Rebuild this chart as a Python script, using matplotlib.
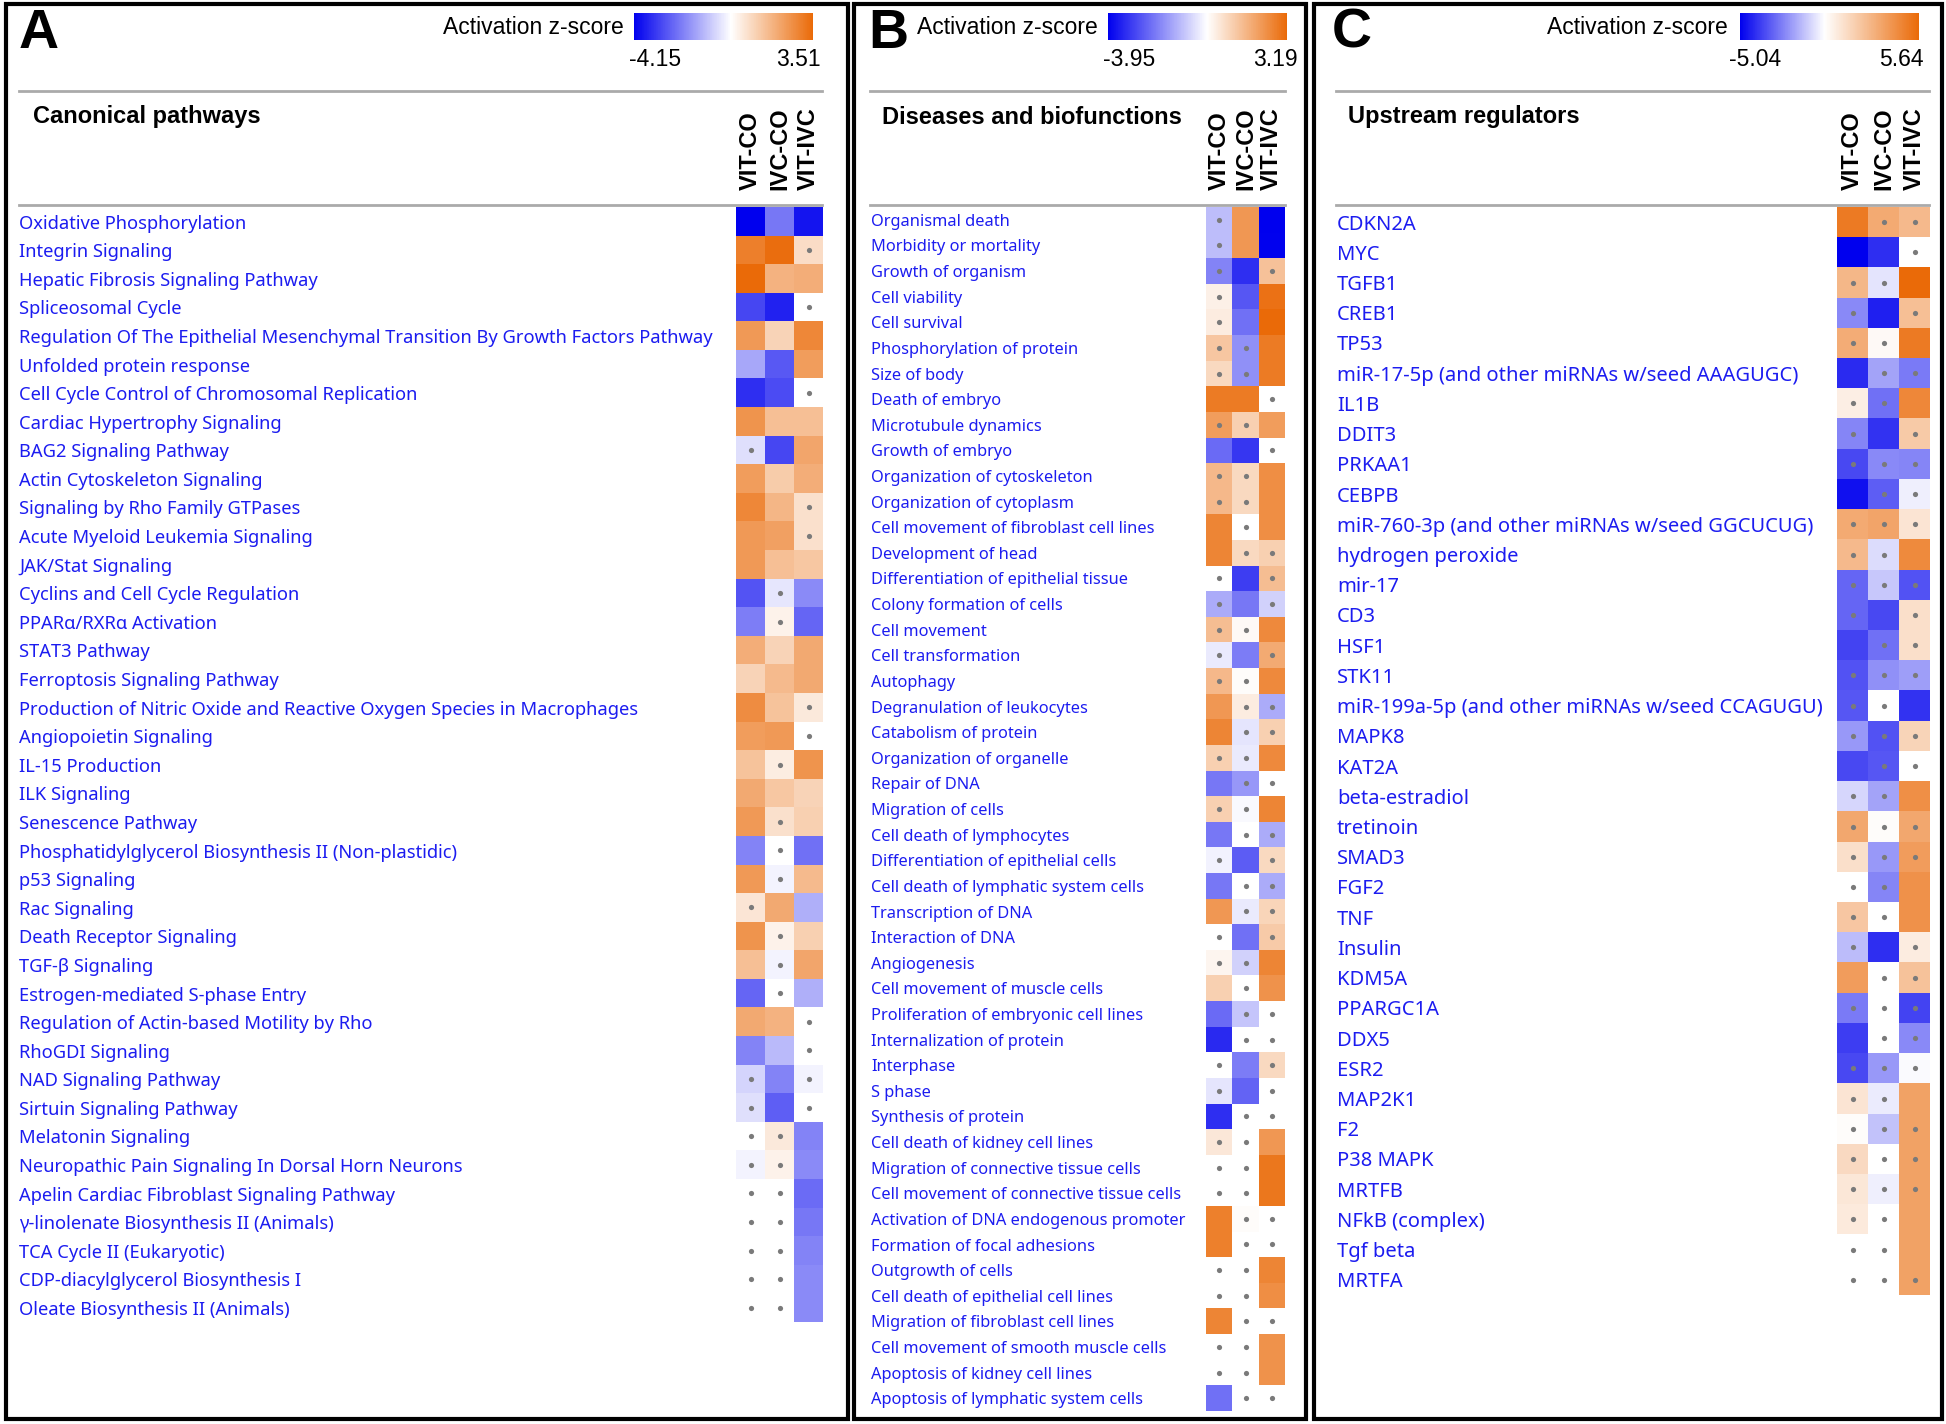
import numpy as np
import matplotlib.pyplot as plt
from matplotlib.colors import LinearSegmentedColormap, Normalize
from matplotlib.cm import ScalarMappable
from matplotlib.patches import Rectangle
from matplotlib.lines import Line2D
from matplotlib import transforms

nan = np.nan
columns = ["VIT-CO", "IVC-CO", "VIT-IVC"]

# ---- A: canonical pathways
A_terms = ["Oxidative Phosphorylation", "Integrin Signaling", "Hepatic Fibrosis Signaling Pathway",
           "Spliceosomal Cycle",
           "Regulation Of The Epithelial Mesenchymal Transition By Growth Factors Pathway",
           "Unfolded protein response", "Cell Cycle Control of Chromosomal Replication",
           "Cardiac Hypertrophy Signaling", "BAG2 Signaling Pathway", "Actin Cytoskeleton Signaling",
           "Signaling by Rho Family GTPases", "Acute Myeloid Leukemia Signaling", "JAK/Stat Signaling",
           "Cyclins and Cell Cycle Regulation", "PPARα/RXRα Activation", "STAT3 Pathway",
           "Ferroptosis Signaling Pathway",
           "Production of Nitric Oxide and Reactive Oxygen Species in Macrophages",
           "Angiopoietin Signaling", "IL-15 Production", "ILK Signaling", "Senescence Pathway",
           "Phosphatidylglycerol Biosynthesis II (Non-plastidic)", "p53 Signaling", "Rac Signaling",
           "Death Receptor Signaling", "TGF-β Signaling", "Estrogen-mediated S-phase Entry",
           "Regulation of Actin-based Motility by Rho", "RhoGDI Signaling", "NAD Signaling Pathway",
           "Sirtuin Signaling Pathway", "Melatonin Signaling",
           "Neuropathic Pain Signaling In Dorsal Horn Neurons",
           "Apelin Cardiac Fibroblast Signaling Pathway", "γ-linolenate Biosynthesis II (Animals)",
           "TCA Cycle II (Eukaryotic)", "CDP-diacylglycerol Biosynthesis I",
           "Oleate Biosynthesis II (Animals)"]
A_vals = [[-4.15, -2.2, -3.8], [3.0, 3.4, 0.8], [3.5, 1.8, 1.9], [-3.0, -3.6, nan],
          [2.4, 1.0, 2.8], [-1.4, -2.7, 2.3], [-3.4, -2.9, nan], [2.5, 1.5, 1.5],
          [-0.5, -3.0, 2.1], [2.3, 1.2, 1.9], [2.8, 1.7, 0.7], [2.4, 2.2, 0.7],
          [2.4, 1.5, 1.3], [-2.8, -0.4, -1.9], [-2.1, 0.3, -2.5], [1.9, 1.0, 2.0],
          [1.0, 1.6, 2.0], [2.7, 1.4, 0.5], [2.3, 2.4, nan], [1.4, 0.4, 2.5],
          [2.0, 1.3, 1.0], [2.4, 0.7, 1.1], [-2.0, nan, -2.3], [2.4, -0.2, 1.6],
          [0.6, 2.0, -1.3], [2.5, 0.3, 1.1], [1.5, -0.2, 2.1], [-2.5, nan, -1.3],
          [2.0, 1.8, nan], [-2.0, -1.1, nan], [-0.7, -2.0, -0.2], [-0.5, -2.6, nan],
          [nan, 0.5, -2.0], [-0.2, 0.3, -1.9], [nan, nan, -2.4], [nan, nan, -2.2],
          [nan, nan, -2.0], [nan, nan, -1.9], [nan, nan, -1.9]]
A_dots = ["000", "001", "000", "001", "000", "000", "001", "000", "100", "000",
          "001", "001", "000", "010", "010", "000", "000", "001", "001", "010",
          "000", "010", "010", "010", "100", "010", "010", "010", "001", "001",
          "101", "101", "110", "110", "110", "110", "110", "110", "110"]

# ---- B: diseases and biofunctions
B_terms = ["Organismal death", "Morbidity or mortality", "Growth of organism", "Cell viability",
           "Cell survival", "Phosphorylation of protein", "Size of body", "Death of embryo",
           "Microtubule dynamics", "Growth of embryo", "Organization of cytoskeleton",
           "Organization of cytoplasm", "Cell movement of fibroblast cell lines",
           "Development of head", "Differentiation of epithelial tissue", "Colony formation of cells",
           "Cell movement", "Cell transformation", "Autophagy", "Degranulation of leukocytes",
           "Catabolism of protein", "Organization of organelle", "Repair of DNA", "Migration of cells",
           "Cell death of lymphocytes", "Differentiation of epithelial cells",
           "Cell death of lymphatic system cells", "Transcription of DNA", "Interaction of DNA",
           "Angiogenesis", "Cell movement of muscle cells", "Proliferation of embryonic cell lines",
           "Internalization of protein", "Interphase", "S phase", "Synthesis of protein",
           "Cell death of kidney cell lines", "Migration of connective tissue cells",
           "Cell movement of connective tissue cells", "Activation of DNA endogenous promoter",
           "Formation of focal adhesions", "Outgrowth of cells", "Cell death of epithelial cell lines",
           "Migration of fibroblast cell lines", "Cell movement of smooth muscle cells",
           "Apoptosis of kidney cell lines", "Apoptosis of lymphatic system cells"]
B_vals = [[-1.0, 2.2, -3.95], [-1.0, 2.2, -3.9], [-1.9, -3.2, 1.3], [0.3, -2.6, 3.0],
          [0.4, -2.2, 3.19], [1.2, -1.7, 2.8], [0.8, -1.7, 2.8], [2.8, 2.8, nan],
          [2.1, 1.0, 2.1], [-2.3, -3.1, nan], [1.5, 0.8, 2.4], [1.5, 0.8, 2.4],
          [2.6, nan, 2.4], [2.6, 0.8, 1.0], [nan, -3.0, 1.4], [-1.3, -2.1, -0.7],
          [1.4, 0.1, 2.5], [-0.3, -2.0, 1.8], [1.5, 0.05, 2.5], [2.2, 0.4, -1.3],
          [2.6, -0.4, 1.0], [1.0, -0.3, 2.5], [-2.1, -1.6, nan], [1.0, -0.1, 2.6],
          [-2.1, nan, -1.3], [-0.2, -2.5, 0.8], [-2.1, nan, -1.3], [2.2, -0.3, 0.9],
          [nan, -2.2, 1.1], [0.2, -0.7, 2.6], [1.0, nan, 2.3], [-2.3, -0.9, nan],
          [-3.3, nan, nan], [nan, -2.0, 0.8], [-0.4, -2.4, nan], [-3.2, nan, nan],
          [0.5, nan, 2.2], [nan, nan, 2.9], [nan, nan, 2.9], [2.7, 0.05, nan],
          [2.7, nan, nan], [nan, nan, 2.6], [nan, nan, 2.4], [2.6, nan, nan],
          [nan, nan, 2.3], [nan, nan, 2.3], [-2.2, nan, nan]]
B_dots = ["100", "100", "101", "100", "100", "110", "110", "001", "110", "001",
          "110", "110", "010", "011", "101", "101", "110", "101", "110", "011",
          "011", "110", "011", "110", "011", "101", "011", "011", "101", "110",
          "010", "011", "011", "101", "101", "011", "110", "110", "110", "011",
          "011", "110", "110", "011", "110", "110", "011"]

# ---- C: upstream regulators
C_terms = ["CDKN2A", "MYC", "TGFB1", "CREB1", "TP53", "miR-17-5p (and other miRNAs w/seed AAAGUGC)",
           "IL1B", "DDIT3", "PRKAA1", "CEBPB", "miR-760-3p (and other miRNAs w/seed GGCUCUG)",
           "hydrogen peroxide", "mir-17", "CD3", "HSF1", "STK11",
           "miR-199a-5p (and other miRNAs w/seed CCAGUGU)", "MAPK8", "KAT2A", "beta-estradiol",
           "tretinoin", "SMAD3", "FGF2", "TNF", "Insulin", "KDM5A", "PPARGC1A", "DDX5", "ESR2",
           "MAP2K1", "F2", "P38 MAPK", "MRTFB", "NFkB (complex)", "Tgf beta", "MRTFA"]
C_vals = [[5.0, 3.2, 2.6], [-5.04, -4.1, nan], [2.7, -0.5, 5.6], [-2.3, -4.4, 2.4],
          [3.1, 0.2, 5.0], [-4.2, -1.8, -2.6], [0.6, -2.8, 4.5], [-2.4, -4.0, 2.0],
          [-3.6, -2.3, -2.4], [-4.7, -3.2, -0.3], [3.2, 3.4, 1.0], [2.6, -0.7, 4.4],
          [-3.0, -1.1, -3.4], [-3.0, -3.6, 1.2], [-3.7, -2.8, 1.2], [-3.4, -2.2, -1.9],
          [-3.3, nan, -4.0], [-2.0, -3.4, 1.6], [-3.6, -3.3, nan], [-0.8, -1.8, 4.2],
          [3.3, 0.1, 3.3], [1.2, -2.0, 3.7], [nan, -2.4, 4.1], [2.1, nan, 4.1],
          [-1.3, -4.1, 0.7], [3.7, nan, 2.3], [-2.6, nan, -3.7], [-3.8, nan, -2.3],
          [-3.6, -2.0, -0.1], [1.0, -0.4, 3.5], [0.1, -1.2, 3.5], [1.4, nan, 3.5],
          [0.9, -0.3, 3.5], [0.8, nan, 3.5], [nan, nan, 3.5], [nan, nan, 3.5]]
C_dots = ["011", "001", "110", "101", "110", "011", "110", "101", "111", "011",
          "111", "110", "111", "101", "011", "111", "110", "111", "011", "110",
          "111", "111", "110", "110", "101", "011", "111", "011", "111", "110",
          "111", "111", "111", "110", "110", "111"]

W, H = 1946, 1424
fig = plt.figure(figsize=(W / 100, H / 100), dpi=100)
fig.patch.set_facecolor("white")

BLUE = "#0000ee"
ORANGE = "#ea6a08"
LABEL_COLOR = "#1c1cf0"


def box(x0, y0, x1, y1):
    return [x0 / W, 1 - y1 / H, (x1 - x0) / W, (y1 - y0) / H]


def fx(x):
    return x / W


def fy(y):
    return 1 - y / H


layout = [
    dict(letter="A", title="Canonical pathways", terms=A_terms, vals=A_vals, dots=A_dots,
         vmin=-4.15, vmax=3.51, frame=(6, 4, 848, 1419), heat=(736, 207, 823, 1322),
         label_x=19, label_fs=13.2, line=(19, 822), cbar=(634, 13, 813, 40),
         cb_right=624, ticks_x=(655, 798), title_x=33, letter_x=19),
    dict(letter="B", title="Diseases and biofunctions", terms=B_terms, vals=B_vals, dots=B_dots,
         vmin=-3.95, vmax=3.19, frame=(854, 4, 1306, 1419), heat=(1206, 207, 1285, 1411),
         label_x=871, label_fs=11.8, line=(870, 1285), cbar=(1108, 13, 1287, 40),
         cb_right=1098, ticks_x=(1129, 1275), title_x=882, letter_x=868),
    dict(letter="C", title="Upstream regulators", terms=C_terms, vals=C_vals, dots=C_dots,
         vmin=-5.04, vmax=5.64, frame=(1314, 4, 1942, 1419), heat=(1837, 207, 1930, 1295),
         label_x=1337, label_fs=14.5, line=(1336, 1929), cbar=(1740, 13, 1919, 40),
         cb_right=1728, ticks_x=(1755, 1901), title_x=1348, letter_x=1332),
]

for p in layout:
    vals = np.array(p["vals"], dtype=float)
    n = len(p["terms"])
    f = -p["vmin"] / (p["vmax"] - p["vmin"])
    cmap = LinearSegmentedColormap.from_list("z", [(0, BLUE), (f, "white"), (1, ORANGE)])
    norm = Normalize(p["vmin"], p["vmax"])

    # frame
    x0, y0, x1, y1 = p["frame"]
    fig.add_artist(Rectangle((fx(x0), fy(y1)), fx(x1) - fx(x0), fy(y0) - fy(y1),
                             transform=fig.transFigure, fill=False, edgecolor="black", lw=3))

    # panel letter
    fig.text(fx(p["letter_x"]), fy(34), p["letter"], fontsize=40, fontweight="bold",
             family="Liberation Sans", ha="left", va="center")

    # colorbar
    cax = fig.add_axes(box(*p["cbar"]))
    cb = fig.colorbar(ScalarMappable(norm=norm, cmap=cmap), cax=cax, orientation="horizontal")
    cb.set_ticks([])
    cb.outline.set_visible(False)
    fig.text(fx(p["cb_right"]), fy(27), "Activation z-score", fontsize=16.5,
             family="Liberation Sans", ha="right", va="center")
    fig.text(fx(p["ticks_x"][0]), fy(59), f"{p['vmin']:.2f}", fontsize=16.5,
             family="Liberation Sans", ha="center", va="center")
    fig.text(fx(p["ticks_x"][1]), fy(59), f"{p['vmax']:.2f}", fontsize=16.5,
             family="Liberation Sans", ha="center", va="center")

    # separator lines
    for yy in (91, 205):
        fig.add_artist(Line2D([fx(p["line"][0]), fx(p["line"][1])], [fy(yy), fy(yy)],
                              transform=fig.transFigure, color="#aaaaaa", lw=2))

    # heading
    fig.text(fx(p["title_x"]), fy(117), p["title"], fontsize=17, fontweight="bold",
             family="Liberation Sans", ha="left", va="center")

    # heatmap
    hx0, hy0, hx1, hy1 = p["heat"]
    ax = fig.add_axes(box(*p["heat"]))
    ax.imshow(np.ma.masked_invalid(vals), cmap=cmap, norm=norm, aspect="auto",
              interpolation="nearest")
    ax.set_xlim(-0.5, 2.5)
    ax.set_ylim(n - 0.5, -0.5)
    ax.set_axis_off()

    dmask = np.array([[c == "1" for c in row] for row in p["dots"]])
    rr, cc = np.nonzero(dmask)
    ax.scatter(cc, rr, s=14, c="#7a7a7a", linewidths=0, zorder=3)

    trans = transforms.blended_transform_factory(fig.transFigure, ax.transData)
    for i, t in enumerate(p["terms"]):
        ax.text(fx(p["label_x"]), i + 0.08, t, transform=trans, ha="left", va="center",
                fontsize=p["label_fs"], color=LABEL_COLOR, family="Noto Sans", clip_on=False)

    # column headers
    colw = (hx1 - hx0) / 3
    for j, c in enumerate(columns):
        fig.text(fx(hx0 + colw * (j + 0.5)), fy(190), c, rotation=90, fontsize=17,
                 fontweight="bold", family="Liberation Sans", ha="center", va="bottom")

fig.savefig("out.png", dpi=100, facecolor="white")
